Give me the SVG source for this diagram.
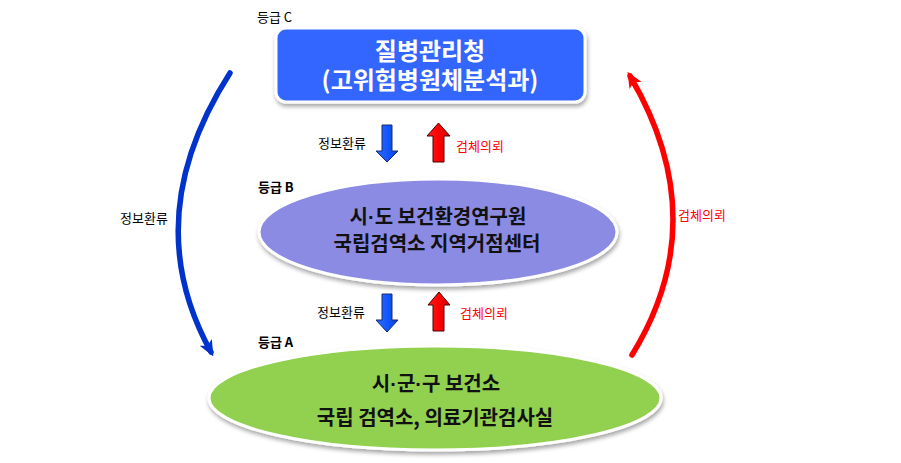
<svg xmlns="http://www.w3.org/2000/svg" width="901" height="463" viewBox="0 0 901 463">
<defs>
<style>
.lbl{font-family:"Noto Sans CJK KR","Liberation Sans",sans-serif;font-size:13px;fill:#000}
.lblb{font-family:"Noto Sans CJK KR","Liberation Sans",sans-serif;font-size:13px;font-weight:bold;fill:#000}
.red{fill:#FF0000}
.title{font-family:"Noto Sans CJK KR","Liberation Sans",sans-serif;font-weight:bold;fill:#fff;text-anchor:middle;font-size:24px}
.node{font-family:"Noto Sans CJK KR","Liberation Sans",sans-serif;font-weight:bold;fill:#111;text-anchor:middle;font-size:20px}
.dot{font-family:"Liberation Sans",sans-serif}
.curveB{fill:none;stroke:#0033CC;stroke-width:5.5;stroke-linecap:round}
.curveR{fill:none;stroke:#FF0000;stroke-width:5.5;stroke-linecap:round}
.down{fill:url(#gBlue);stroke:#1a2a70;stroke-width:1}
.up{fill:url(#gRed);stroke:#4a0000;stroke-width:1}
</style>
<linearGradient id="gBlue" x1="0" y1="0" x2="1" y2="0">
<stop offset="0" stop-color="#2a6cff"/><stop offset="0.5" stop-color="#1458ff"/><stop offset="1" stop-color="#0a3ed0"/>
</linearGradient>
<linearGradient id="gRed" x1="0" y1="0" x2="1" y2="0">
<stop offset="0" stop-color="#ff2020"/><stop offset="0.5" stop-color="#ff0000"/><stop offset="1" stop-color="#d00000"/>
</linearGradient>
<filter id="sh" x="-10%" y="-20%" width="120%" height="150%">
<feDropShadow dx="1" dy="3" stdDeviation="2" flood-color="#000" flood-opacity="0.35"/>
</filter>
<marker id="hB" markerUnits="userSpaceOnUse" viewBox="0 0 16 14" refX="11" refY="7" markerWidth="16" markerHeight="14" orient="auto">
<path d="M0,0 L16,7 L0,14 L4,7 z" fill="#0033CC"/>
</marker>
<marker id="hR" markerUnits="userSpaceOnUse" viewBox="0 0 16 14" refX="11" refY="7" markerWidth="16" markerHeight="14" orient="auto">
<path d="M0,0 L16,7 L0,14 L4,7 z" fill="#FF0000"/>
</marker>
</defs>
<rect width="901" height="463" fill="#fff"/>

<g id="connectors">
<path class="curveB" d="M230,73 Q137,218 211,352" marker-end="url(#hB)"/>
<path class="curveR" d="M632,355 Q715,220 630,76" marker-end="url(#hR)"/>
<polygon class="down" points="382,125 392,125 392,151 398,151 387,162 376,151 382,151"/>
<polygon class="up" points="433,162 444,162 444,136 450,136 438.5,123 427,136 433,136"/>
<polygon class="down" points="382,294 392,294 392,320 398,320 387,332 376,320 382,320"/>
<polygon class="up" points="433,331 444,331 444,305 450,305 439,292 428,305 433,305"/>
<text class="lbl" x="318" y="148">정보환류</text>
<text class="lbl red" x="456" y="151">검체의뢰</text>
<text class="lbl" x="317" y="317">정보환류</text>
<text class="lbl red" x="460" y="318">검체의뢰</text>
<text class="lbl" x="120" y="223">정보환류</text>
<text class="lbl red" x="678" y="220">검체의뢰</text>
</g>

<g id="nodeC">
<text class="lbl" x="257" y="22">등급 C</text>
<rect x="276" y="28" width="309" height="74" rx="10" ry="10" fill="#3366FF" stroke="#fff" stroke-width="3" filter="url(#sh)"/>
<text class="title"><tspan x="430" y="60">질병관리청</tspan><tspan x="430" y="89">(고위험병원체분석과)</tspan></text>
</g>

<g id="nodeB">
<text class="lblb" x="258" y="192">등급 B</text>
<ellipse cx="438" cy="232" rx="179" ry="53" fill="#8B8BE3" stroke="#fff" stroke-width="3" filter="url(#sh)"/>
<text class="node" x="438" y="224">시<tspan class="dot">·</tspan>도 보건환경연구원</text>
<text class="node" x="437" y="251">국립검역소 지역거점센터</text>
</g>

<g id="nodeA">
<text class="lblb" x="258" y="347">등급 A</text>
<ellipse cx="435" cy="398" rx="226" ry="52" fill="#92D050" stroke="#fff" stroke-width="3" filter="url(#sh)"/>
<text class="node" x="436" y="391">시<tspan class="dot">·</tspan>군<tspan class="dot">·</tspan>구 보건소</text>
<text class="node" x="435" y="425">국립 검역소, 의료기관검사실</text>
</g>
</svg>
